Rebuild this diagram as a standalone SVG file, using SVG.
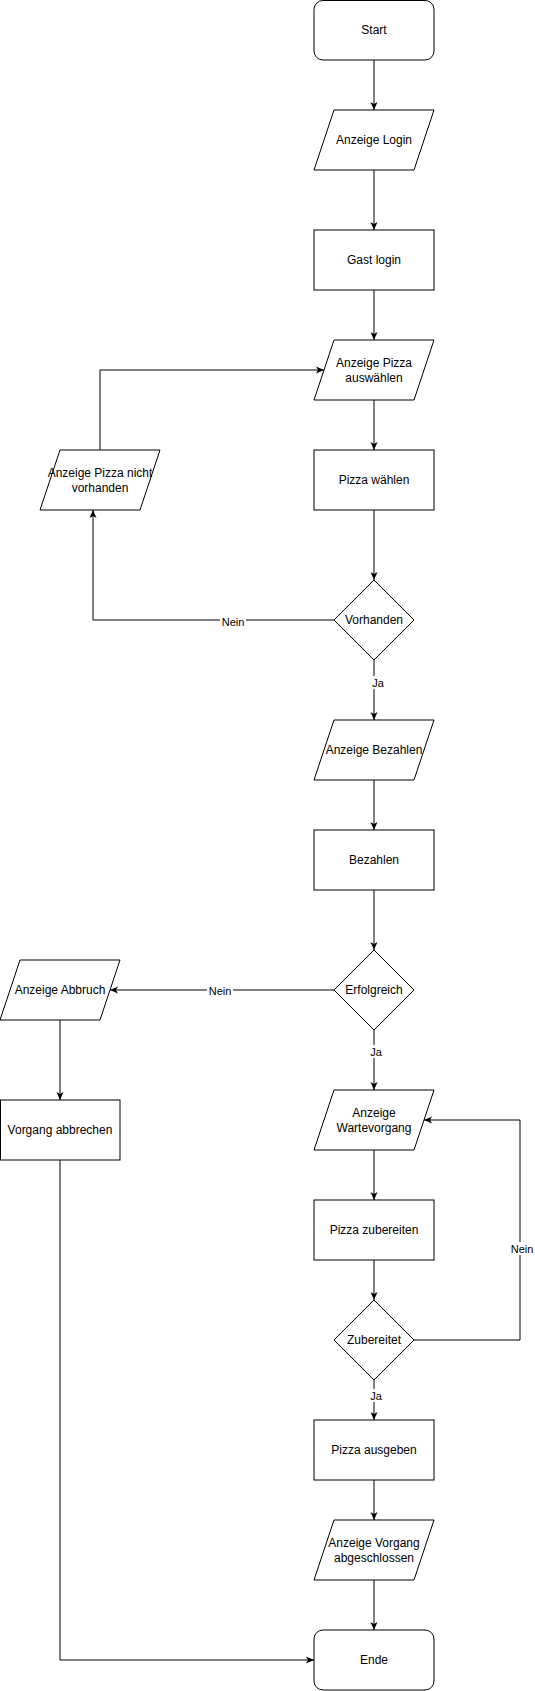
<svg xmlns="http://www.w3.org/2000/svg" width="535" height="1691" viewBox="0 0 535 1691">
<style>
.s{fill:#fff;stroke:#000;stroke-width:1}
.t{font-family:"Liberation Sans",Arial,sans-serif;font-size:12px;fill:#000;text-anchor:middle}
.l{font-family:"Liberation Sans",Arial,sans-serif;font-size:11px;fill:#000;text-anchor:middle}
.e{fill:none;stroke:#000;stroke-width:1}
.lb{fill:#fff}
</style>
<defs>
<marker id="a" markerUnits="userSpaceOnUse" markerWidth="8" markerHeight="8" viewBox="0 0 8 8" refX="8" refY="4" orient="auto">
<path d="M0,0.5 L8,4 L0,7.5 L2,4 Z" fill="#000"/>
</marker>
</defs>
<rect width="535" height="1691" fill="#fff"/>
<g id="connectors">
<path class="e" d="M374,60 V110" marker-end="url(#a)"/>
<path class="e" d="M374,170 V230" marker-end="url(#a)"/>
<path class="e" d="M374,290 V340" marker-end="url(#a)"/>
<path class="e" d="M374,400 V450" marker-end="url(#a)"/>
<path class="e" d="M374,510 V580" marker-end="url(#a)"/>
<path class="e" d="M334,620 H93 V510" marker-end="url(#a)"/>
<path class="e" d="M100,450 V370 H324" marker-end="url(#a)"/>
<path class="e" d="M374,660 V720" marker-end="url(#a)"/>
<path class="e" d="M374,780 V830" marker-end="url(#a)"/>
<path class="e" d="M374,890 V950" marker-end="url(#a)"/>
<path class="e" d="M334,990 H110" marker-end="url(#a)"/>
<path class="e" d="M60,1020 V1100" marker-end="url(#a)"/>
<path class="e" d="M374,1030 V1090" marker-end="url(#a)"/>
<path class="e" d="M374,1150 V1200" marker-end="url(#a)"/>
<path class="e" d="M374,1260 V1300" marker-end="url(#a)"/>
<path class="e" d="M414,1340 H520 V1120 H424" marker-end="url(#a)"/>
<path class="e" d="M374,1380 V1420" marker-end="url(#a)"/>
<path class="e" d="M374,1480 V1520" marker-end="url(#a)"/>
<path class="e" d="M374,1580 V1630" marker-end="url(#a)"/>
<path class="e" d="M60,1160 V1660 H314" marker-end="url(#a)"/>
<rect class="lb" x="220" y="614" width="26" height="13"/>
<text class="l" x="233" y="626">Nein</text>
<rect class="lb" x="370" y="676" width="16" height="13"/>
<text class="l" x="378" y="687">Ja</text>
<rect class="lb" x="207" y="984" width="26" height="13"/>
<text class="l" x="220" y="995">Nein</text>
<rect class="lb" x="368" y="1045" width="16" height="13"/>
<text class="l" x="376" y="1056">Ja</text>
<rect class="lb" x="509" y="1242" width="26" height="13"/>
<text class="l" x="522" y="1253">Nein</text>
<rect class="lb" x="368" y="1389" width="16" height="13"/>
<text class="l" x="376" y="1400">Ja</text>
</g>
<g id="start"><rect class="s" x="314" y="0.5" width="120" height="59.5" rx="9" ry="9"/><text class="t" x="374" y="34">Start</text></g>
<g id="anzeige-login"><path class="s" d="M334,110 H434 L414,170 H314 Z"/><text class="t" x="374" y="144">Anzeige Login</text></g>
<g id="gast-login"><rect class="s" x="314" y="230" width="120" height="60"/><text class="t" x="374" y="264">Gast login</text></g>
<g id="anzeige-pizza-auswaehlen"><path class="s" d="M334,340 H434 L414,400 H314 Z"/><text class="t" x="374" y="366.5">Anzeige Pizza</text><text class="t" x="374" y="381.5">auswählen</text></g>
<g id="pizza-waehlen"><rect class="s" x="314" y="450" width="120" height="60"/><text class="t" x="374" y="484">Pizza wählen</text></g>
<g id="vorhanden"><path class="s" d="M374,580 L414,620 L374,660 L334,620 Z"/><text class="t" x="374" y="624">Vorhanden</text></g>
<g id="anzeige-pizza-nicht-vorhanden"><path class="s" d="M60,450 H160 L140,510 H40 Z"/><text class="t" x="100" y="477">Anzeige Pizza nicht</text><text class="t" x="100" y="492">vorhanden</text></g>
<g id="anzeige-bezahlen"><path class="s" d="M334,720 H434 L414,780 H314 Z"/><text class="t" x="374" y="754">Anzeige Bezahlen</text></g>
<g id="bezahlen"><rect class="s" x="314" y="830" width="120" height="60"/><text class="t" x="374" y="864">Bezahlen</text></g>
<g id="erfolgreich"><path class="s" d="M374,950 L414,990 L374,1030 L334,990 Z"/><text class="t" x="374" y="994">Erfolgreich</text></g>
<g id="anzeige-abbruch"><path class="s" d="M20,960 H120 L100,1020 H0 Z"/><text class="t" x="60" y="994">Anzeige Abbruch</text></g>
<g id="vorgang-abbrechen"><rect class="s" x="0.5" y="1100" width="119.5" height="60"/><text class="t" x="60" y="1134">Vorgang abbrechen</text></g>
<g id="anzeige-wartevorgang"><path class="s" d="M334,1090 H434 L414,1150 H314 Z"/><text class="t" x="374" y="1117">Anzeige</text><text class="t" x="374" y="1132">Wartevorgang</text></g>
<g id="pizza-zubereiten"><rect class="s" x="314" y="1200" width="120" height="60"/><text class="t" x="374" y="1234">Pizza zubereiten</text></g>
<g id="zubereitet"><path class="s" d="M374,1300 L414,1340 L374,1380 L334,1340 Z"/><text class="t" x="374" y="1344">Zubereitet</text></g>
<g id="pizza-ausgeben"><rect class="s" x="314" y="1420" width="120" height="60"/><text class="t" x="374" y="1454">Pizza ausgeben</text></g>
<g id="anzeige-vorgang-abgeschlossen"><path class="s" d="M334,1520 H434 L414,1580 H314 Z"/><text class="t" x="374" y="1547">Anzeige Vorgang</text><text class="t" x="374" y="1562">abgeschlossen</text></g>
<g id="ende"><rect class="s" x="314" y="1630" width="120" height="60" rx="9" ry="9"/><text class="t" x="374" y="1664">Ende</text></g>
</svg>
